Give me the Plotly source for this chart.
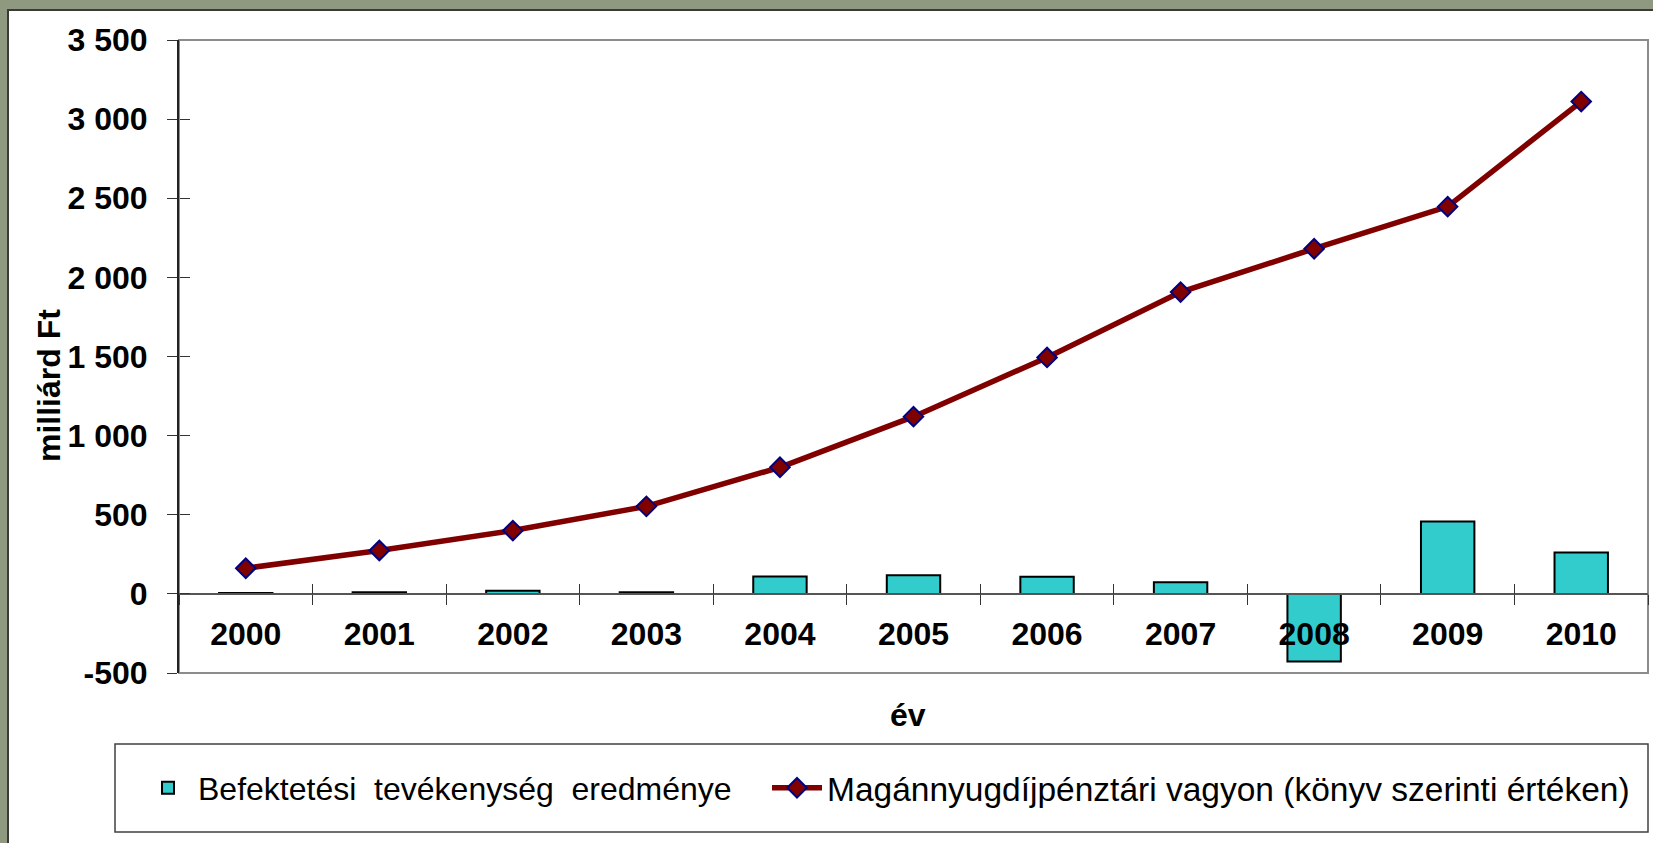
import plotly.graph_objects as go

# ---- data ----
years = ["2000", "2001", "2002", "2003", "2004", "2005", "2006", "2007", "2008", "2009", "2010"]
befektetesi_eredmeny = [5, 10, 20, 10, 110, 118, 108, 73, -428, 458, 261]
vagyon = [162, 274, 400, 553, 800, 1120, 1494, 1907, 2181, 2447, 3111]
y_tick_vals = [-500, 0, 500, 1000, 1500, 2000, 2500, 3000, 3500]
y_tick_text = ["-500", "0", "500", "1 000", "1 500", "2 000", "2 500", "3 000", "3 500"]
bar_name = "Befektetési  tevékenység  eredménye"
line_name = "Magánnyugdíjpénztári vagyon (könyv szerinti értéken)"

W, H = 1653, 843
L, R, T, B = 179, 5, 40, 170
PW, PH = W - L - R, H - T - B


def px_x(p):
    return (p - L) / PW


def px_y(p):
    return (H - B - p) / PH


FONT = "Arial, Liberation Sans, sans-serif"

fig = go.Figure()
fig.add_trace(go.Bar(
    x=years, y=befektetesi_eredmeny, name=bar_name, legend="legend",
    marker=dict(color="#33CCCC", line=dict(color="#000000", width=2)),
))
fig.add_trace(go.Scatter(
    x=years, y=vagyon, name=line_name, mode="lines+markers", legend="legend2",
    line=dict(color="#800000", width=5.5),
    marker=dict(symbol="diamond", size=15, color="#800000",
                line=dict(color="#000080", width=2)),
))
# helper trace for cross-tick overlay axes
fig.add_trace(go.Scatter(x=[None], y=[None], xaxis="x2", yaxis="y2",
                         showlegend=False, hoverinfo="skip"))

zero_pos = (0 - y_tick_vals[0]) / (y_tick_vals[-1] - y_tick_vals[0])

legend_common = dict(
    orientation="h", xref="container", yref="container",
    xanchor="left", y=1 - 788 / H, yanchor="middle",
    bgcolor="rgba(0,0,0,0)", borderwidth=0, itemwidth=50,
)

fig.update_layout(
    width=W, height=H, autosize=False,
    margin=dict(l=L, r=R, t=T, b=B, pad=0, autoexpand=False),
    paper_bgcolor="#8F997F",
    plot_bgcolor="rgba(0,0,0,0)",
    bargap=0.6,
    showlegend=True,
    xaxis=dict(
        type="category", range=[-0.5, 10.5], anchor="free", position=zero_pos,
        showline=True, linecolor="#555555", linewidth=1.5,
        ticks="outside", tickson="boundaries", ticklen=10, tickcolor="#333333", tickwidth=1,
        showgrid=False, zeroline=False,
        tickfont=dict(family=FONT, size=32, color="#000000", weight="bold"),
        ticklabelstandoff=12,
    ),
    xaxis2=dict(
        overlaying="x", anchor="free", position=zero_pos, range=[-0.5, 10.5],
        tickvals=[i - 0.5 for i in range(len(years) + 1)],
        ticks="inside", ticklen=10, tickcolor="#333333", tickwidth=1,
        showticklabels=False, showline=False, showgrid=False, zeroline=False,
    ),
    yaxis=dict(
        range=[y_tick_vals[0], y_tick_vals[-1]],
        tickvals=y_tick_vals, ticktext=y_tick_text,
        ticks="outside", ticklen=10, tickcolor="#333333", tickwidth=1,
        showline=True, linecolor="#222222", linewidth=2,
        showgrid=False, zeroline=False,
        tickfont=dict(family=FONT, size=32, color="#000000", weight="bold"),
        ticklabelstandoff=13,
    ),
    yaxis2=dict(
        overlaying="y", anchor="free", position=0, side="left",
        range=[y_tick_vals[0], y_tick_vals[-1]], tickvals=y_tick_vals,
        ticks="inside", ticklen=10, tickcolor="#333333", tickwidth=1,
        showticklabels=False, showline=False, showgrid=False, zeroline=False,
    ),
    legend=dict(legend_common, x=138 / W,
                font=dict(family=FONT, size=32, color="#000000")),
    legend2=dict(legend_common, x=767 / W,
                 font=dict(family=FONT, size=33.5, color="#000000")),
    annotations=[
        dict(text="milliárd Ft", x=px_x(49), y=px_y(386), xref="paper", yref="paper",
             textangle=-90, showarrow=False, xanchor="center", yanchor="middle",
             font=dict(family=FONT, size=32, color="#000000", weight="bold")),
        dict(text="év", x=px_x(908), y=px_y(715), xref="paper", yref="paper",
             showarrow=False, xanchor="center", yanchor="middle",
             font=dict(family=FONT, size=32, color="#000000", weight="bold")),
    ],
    shapes=[
        dict(type="rect", xref="paper", yref="paper", layer="below",
             x0=px_x(8), x1=px_x(W + 20), y0=px_y(H + 20), y1=px_y(10),
             fillcolor="#FFFFFF", line=dict(color="#3A3A3A", width=2)),
        dict(type="rect", xref="paper", yref="paper", layer="below",
             x0=0, x1=1, y0=0, y1=1,
             fillcolor="rgba(0,0,0,0)", line=dict(color="#8C8C8C", width=2)),
        dict(type="rect", xref="paper", yref="paper", layer="below",
             x0=px_x(115), x1=px_x(1648), y0=px_y(832), y1=px_y(744),
             fillcolor="rgba(0,0,0,0)", line=dict(color="#404040", width=1.5)),
    ],
)

fig.write_html(
    "out.html",
    config={"displayModeBar": False},
    post_script="document.body.style.margin='0';document.body.style.overflow='hidden';",
)
